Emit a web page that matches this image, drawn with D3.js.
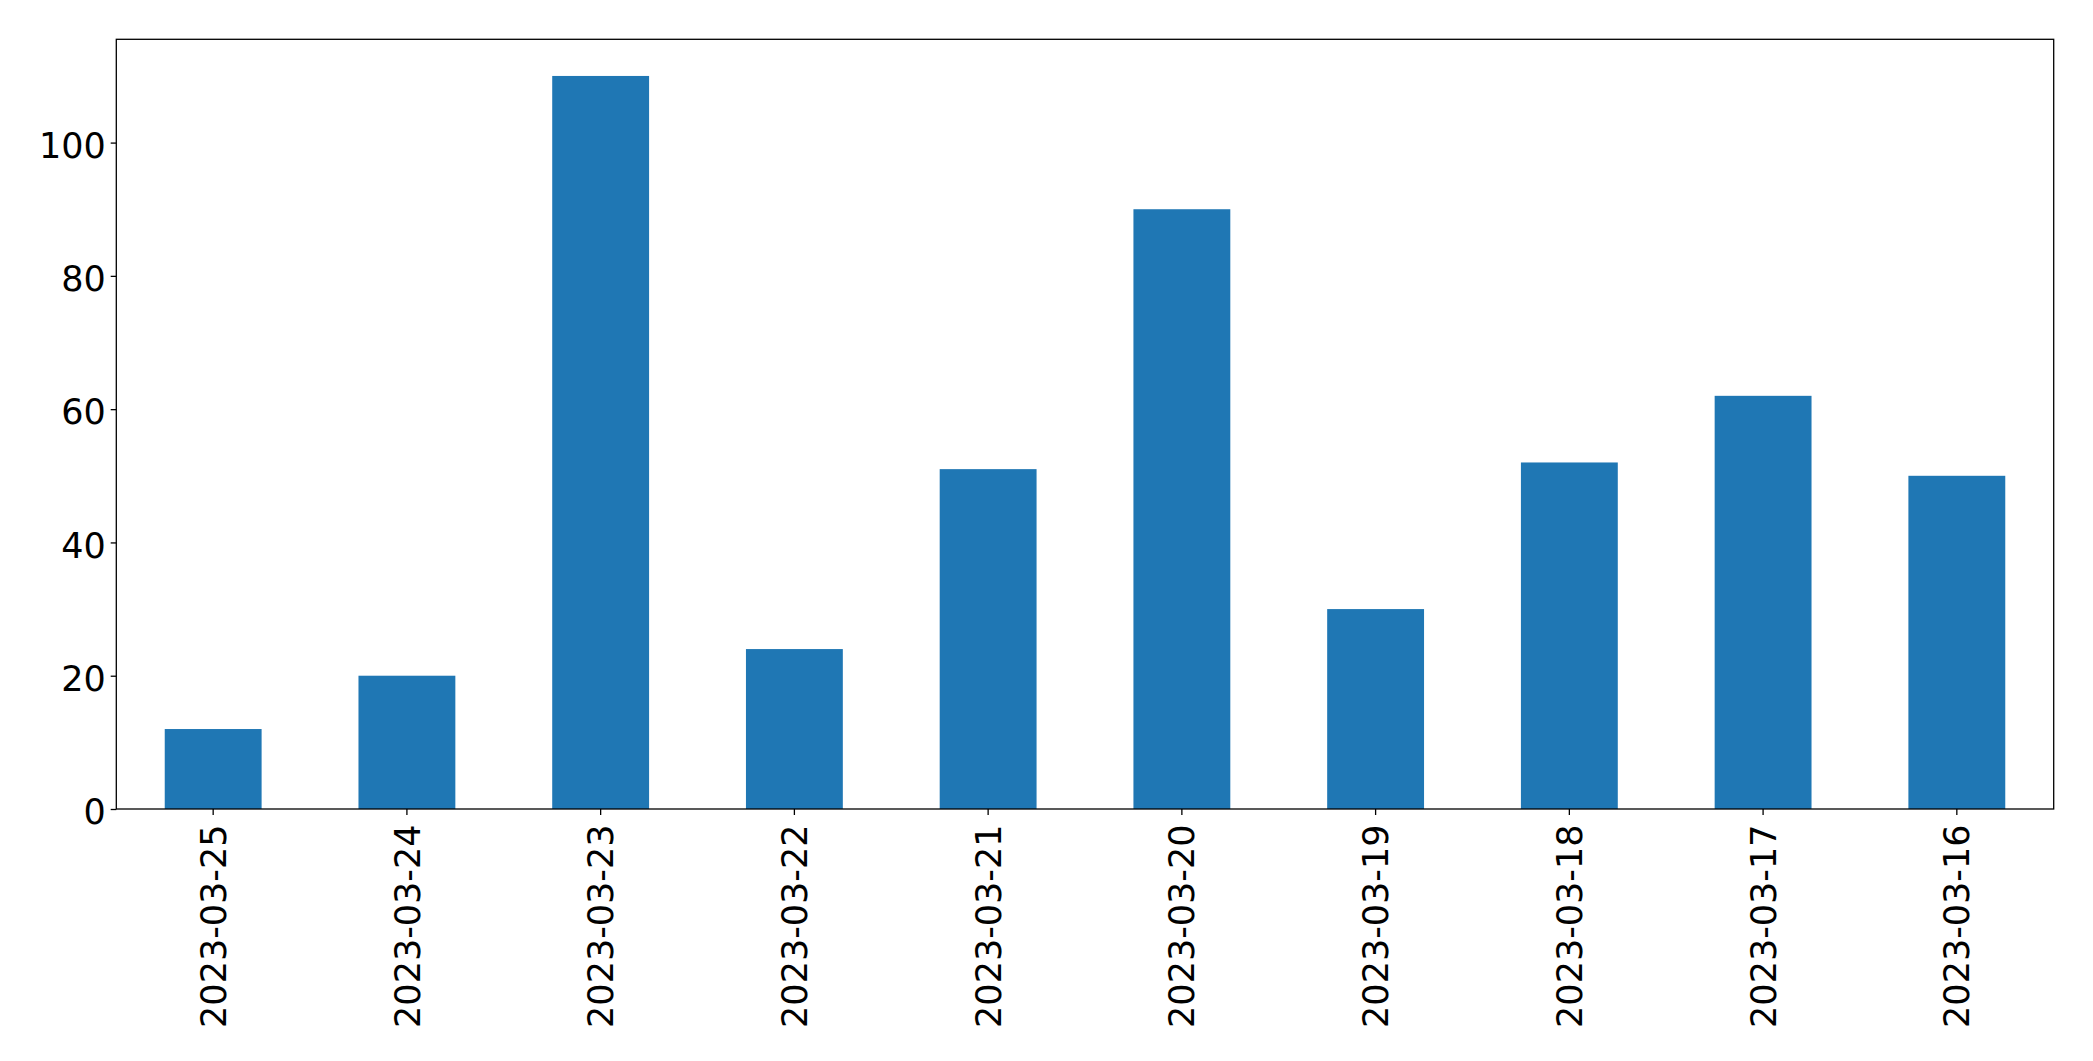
<!DOCTYPE html>
<html><head><meta charset="utf-8">
<script src="https://cdn.jsdelivr.net/npm/d3@7"></script>
<style>html,body{margin:0;padding:0;background:#fff;overflow:hidden}</style>
</head><body>
<script>
const categories = ["2023-03-25","2023-03-24","2023-03-23","2023-03-22","2023-03-21","2023-03-20","2023-03-19","2023-03-18","2023-03-17","2023-03-16"];
const values = [12, 20, 110, 24, 51, 90, 30, 52, 62, 50];
const yTicks = [0, 20, 40, 60, 80, 100];

const W = 2093, H = 1061;
const m = {left: 116.3, right: W - 2053.7, top: 39.3, bottom: H - 809};
const iw = W - m.left - m.right, ih = H - m.top - m.bottom;
const font = "DejaVu Sans";
const fs = 35;

const svg = d3.select("body").append("svg").attr("width", W).attr("height", H)
  .style("display","block");
const g = svg.append("g").attr("transform", `translate(${m.left},${m.top})`);

const x = d3.scaleBand().domain(categories).range([0, iw]).paddingInner(0.5).paddingOuter(0.25);
const y = d3.scaleLinear().domain([0, d3.max(values) * 1.05]).range([ih, 0]);

g.selectAll("rect.bar").data(values).join("rect")
  .attr("class","bar")
  .attr("x", (d,i) => x(categories[i]))
  .attr("width", x.bandwidth())
  .attr("y", d => y(d))
  .attr("height", d => y(0) - y(d))
  .attr("fill", "#1f77b4");

// frame
g.append("rect").attr("x",0).attr("y",0).attr("width",iw).attr("height",ih)
  .attr("fill","none").attr("stroke","#000").attr("stroke-width",1.3);

// y axis
const yAxis = g.append("g").call(d3.axisLeft(y).tickValues(yTicks).tickSize(5.6).tickPadding(5).tickFormat(d3.format("d")));
yAxis.select(".domain").remove();
yAxis.selectAll("line").attr("stroke","#000").attr("stroke-width",1.3);
yAxis.selectAll("text").attr("font-family", font).attr("font-size", fs).attr("fill","#000")
  .attr("dy","0.42em");

// x axis
const xAxis = g.append("g").attr("transform", `translate(0,${ih})`)
  .call(d3.axisBottom(x).tickSize(6).tickPadding(8));
xAxis.select(".domain").remove();
xAxis.selectAll("line").attr("stroke","#000").attr("stroke-width",1.3);
xAxis.selectAll("text").attr("font-family", font).attr("font-size", fs).attr("fill","#000")
  .attr("text-anchor","end")
  .attr("transform","translate(0,15.5) rotate(-90)")
  .attr("x",0).attr("y",0).attr("dy","0.36em");
</script>
</body></html>
